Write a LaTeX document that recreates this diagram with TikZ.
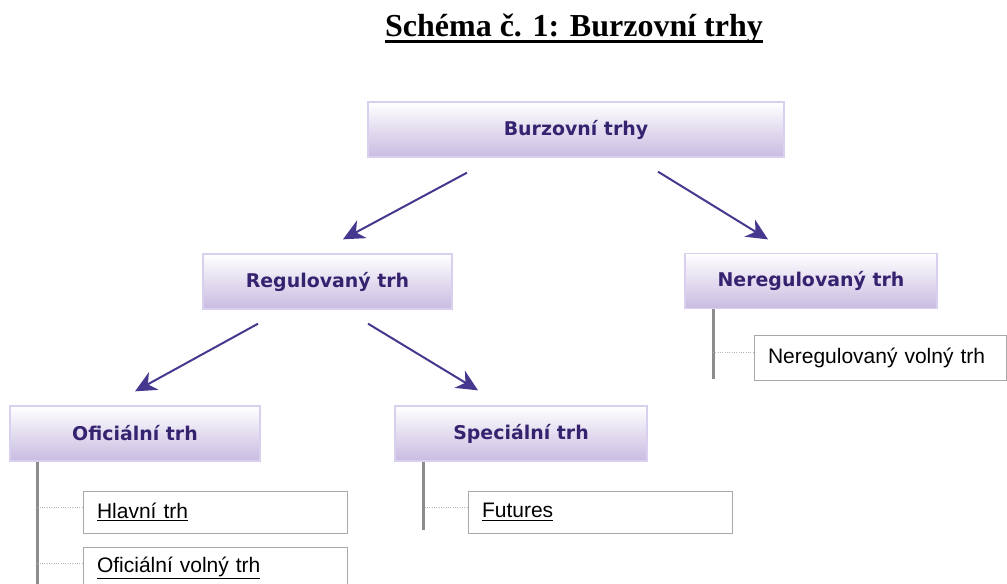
\documentclass[tikz,border=0pt]{standalone}
\usepackage{fontspec}
\setmainfont{Liberation Sans}
\newfontfamily\titlefont{Liberation Serif}
\newfontfamily\labelfont{DejaVu Sans}
\usepackage{xcolor}
\usetikzlibrary{arrows.meta,calc,positioning}

\definecolor{boxedge}{HTML}{D8D0EE}
\definecolor{boxbot}{HTML}{C8BBE1}
\definecolor{boxtext}{HTML}{35236F}
\definecolor{arrowcol}{HTML}{46378F}
\definecolor{stemcol}{HTML}{8C8C8C}
\definecolor{dotcol}{HTML}{B5B5B5}
\definecolor{subedge}{HTML}{A8A8A8}

\newcommand{\thickuline}[1]{\setbox0=\hbox{#1}\leavevmode\rlap{\rule[-5.5pt]{\wd0}{2.4pt}}\box0}

\begin{document}
\begin{tikzpicture}[x=0.75pt,y=-0.75pt,
mainbox/.style={rectangle, draw=boxedge, top color=white, bottom color=boxbot, line width=1pt, minimum height=41.25pt, text=boxtext, font=\labelfont\bfseries\fontsize{14.2}{16}\selectfont},
subbox/.style={rectangle, draw=subedge, fill=white, line width=0.75pt, minimum height=31.5pt, inner xsep=10.5pt, align=left, font=\fontsize{15.75}{18}\selectfont},
marrow/.style={draw=arrowcol, line width=1.5pt, -{Stealth[length=16pt,width=15pt,inset=5pt]}},
stem/.style={draw=stemcol, line width=2.25pt},
branch/.style={draw=dotcol, densely dotted, line width=0.75pt},
]
\useasboundingbox (0,0) rectangle (1007,583);

%Title
\node[anchor=base, font=\titlefont\bfseries\fontsize{24}{28}\selectfont] (title) at (574,36) {\thickuline{Schéma č. 1: Burzovní trhy}};

%Nodes
\node[mainbox, minimum width=312pt]    (burza) at (576,129.5) {Burzovní trhy};
\node[mainbox, minimum width=186.75pt] (reg)   at (327.5,281.5) {Regulovaný trh};
\node[mainbox, minimum width=189pt]    (nereg) at (811,281) {Neregulovaný trh};
\node[mainbox, minimum width=187.5pt]  (ofic)  at (135,433.5) {Oficiální trh};
\node[mainbox, minimum width=189pt]    (spec)  at (521,433.5) {Speciální trh};

\node[subbox, text width=177pt] (hlavni)  at (215,512) {\underline{Hlavní trh}};
\node[subbox, text width=177pt] (oficvol) at (215,568) {\underline{Oficiální volný trh}};
\node[subbox, text width=177pt] (futures) at (600,512) {\underline{Futures}};
\node[subbox, text width=168pt, minimum height=33.75pt] (neregvol) at (880,357.5) {Neregulovaný volný trh};

%Arrows
\draw[marrow] ([shift={(-81.75pt,-11.25pt)}]burza.south) -- ([shift={(11.6pt,10.5pt)}]reg.north);
\draw[marrow] ([shift={(61.5pt,-10.5pt)}]burza.south) -- ([shift={(-32.25pt,10.1pt)}]nereg.north);
\draw[marrow] ([shift={(-52.1pt,-10.5pt)}]reg.south) -- ([shift={(0pt,10.5pt)}]ofic.north);
\draw[marrow] ([shift={(30.4pt,-10.5pt)}]reg.south) -- ([shift={(-32.25pt,11.25pt)}]spec.north);

%Stems
\coordinate (ofictop)  at ([xshift=21pt]ofic.south west);
\coordinate (oficend)  at ([yshift=-97.5pt]ofictop);
\coordinate (spectop)  at ([xshift=21.75pt]spec.south west);
\coordinate (specend)  at ([yshift=-51pt]spectop);
\coordinate (neregtop) at ([xshift=21.75pt]nereg.south west);
\coordinate (neregend) at ([yshift=-52.5pt]neregtop);
\draw[stem] (ofictop) -- (oficend);
\draw[stem] (spectop) -- (specend);
\draw[stem] (neregtop) -- (neregend);

%Branches
\draw[branch] ([yshift=3.75pt]hlavni.west) -- ([yshift=3.75pt]hlavni.west -| ofictop);
\draw[branch] ([yshift=3.75pt]oficvol.west) -- ([yshift=3.75pt]oficvol.west -| ofictop);
\draw[branch] ([yshift=3.75pt]futures.west) -- ([yshift=3.75pt]futures.west -| spectop);
\draw[branch] ([yshift=3.75pt]neregvol.west) -- ([yshift=3.75pt]neregvol.west -| neregtop);
\end{tikzpicture}
\end{document}
